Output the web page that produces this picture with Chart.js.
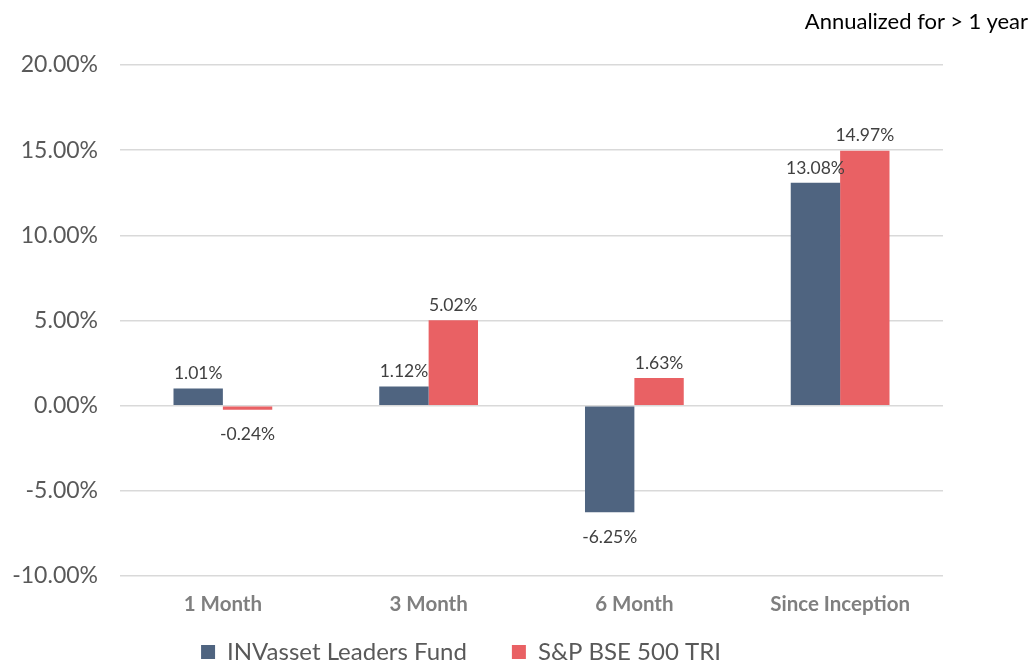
<!DOCTYPE html>
<html>
<head>
<meta charset="utf-8">
<script src="https://cdn.jsdelivr.net/npm/chart.js@4.4.1/dist/chart.umd.min.js"></script>
<style>
  body { margin: 0; background: #fff; }
  #wrap { position: relative; width: 1034px; height: 665px; }
  #note { position: absolute; top: 8px; right: 6px; font: 22px Lato, sans-serif; line-height: 26px; color: #000; }
</style>
</head>
<body>
<div id="wrap">
  <canvas id="perfChart" width="1034" height="665"></canvas>
  <div id="note">Annualized for &gt; 1 year</div>
</div>
<script>
// values (percent)
const categories = ['1 Month', '3 Month', '6 Month', 'Since Inception'];
const fundReturns = [1.01, 1.12, -6.25, 13.08];
const indexReturns = [-0.24, 5.02, 1.63, 14.97];
const seriesNames = ['INVasset Leaders Fund', 'S&P BSE 500 TRI'];

Chart.defaults.font.family = 'Lato, sans-serif';

// print the value above positive bars and below negative ones
const valueLabels = {
  id: 'valueLabels',
  afterDatasetsDraw(chart) {
    const ctx = chart.ctx;
    ctx.save();
    ctx.font = '17.5px Lato, sans-serif';
    ctx.fillStyle = '#404040';
    ctx.textAlign = 'center';
    ctx.textBaseline = 'middle';
    chart.data.datasets.forEach((ds, i) => {
      chart.getDatasetMeta(i).data.forEach((bar, j) => {
        const v = ds.data[j];
        const y = v >= 0 ? bar.y - 15 : bar.y + 25;
        ctx.fillText(v.toFixed(2) + '%', bar.x, y);
      });
    });
    ctx.restore();
  }
};

new Chart(document.getElementById('perfChart'), {
  type: 'bar',
  data: {
    labels: categories,
    datasets: [
      { label: seriesNames[0], data: fundReturns, backgroundColor: '#4F6480' },
      { label: seriesNames[1], data: indexReturns, backgroundColor: '#E96164' }
    ]
  },
  options: {
    responsive: false,
    animation: false,
    categoryPercentage: 0.48,
    barPercentage: 1,
    layout: { padding: { left: -21, right: 91, top: 65, bottom: 0 } },
    scales: {
      x: {
        grid: { display: false },
        border: { display: false },
        // mirror keeps the labels from being clipped to the short axis box
        ticks: { color: '#7F7F7F', font: { size: 20.5, weight: 'bold' }, padding: -41, mirror: true },
        afterFit: (scale) => { scale.height = 19; }
      },
      y: {
        min: -10,
        max: 20,
        grid: { color: '#D9D9D9', lineWidth: 1.5, drawTicks: false },
        border: { display: false },
        ticks: {
          stepSize: 5,
          color: '#595959',
          font: { size: 23 },
          padding: 22,
          callback: (v) => v.toFixed(2) + '%'
        },
        afterFit: (scale) => { scale.width = 141; }
      }
    },
    plugins: {
      legend: {
        position: 'bottom',
        maxHeight: 70,
        labels: { boxWidth: 14, boxHeight: 14, padding: 45, color: '#595959', font: { size: 24 } }
      },
      tooltip: { enabled: false }
    }
  },
  plugins: [valueLabels]
});
</script>
</body>
</html>
